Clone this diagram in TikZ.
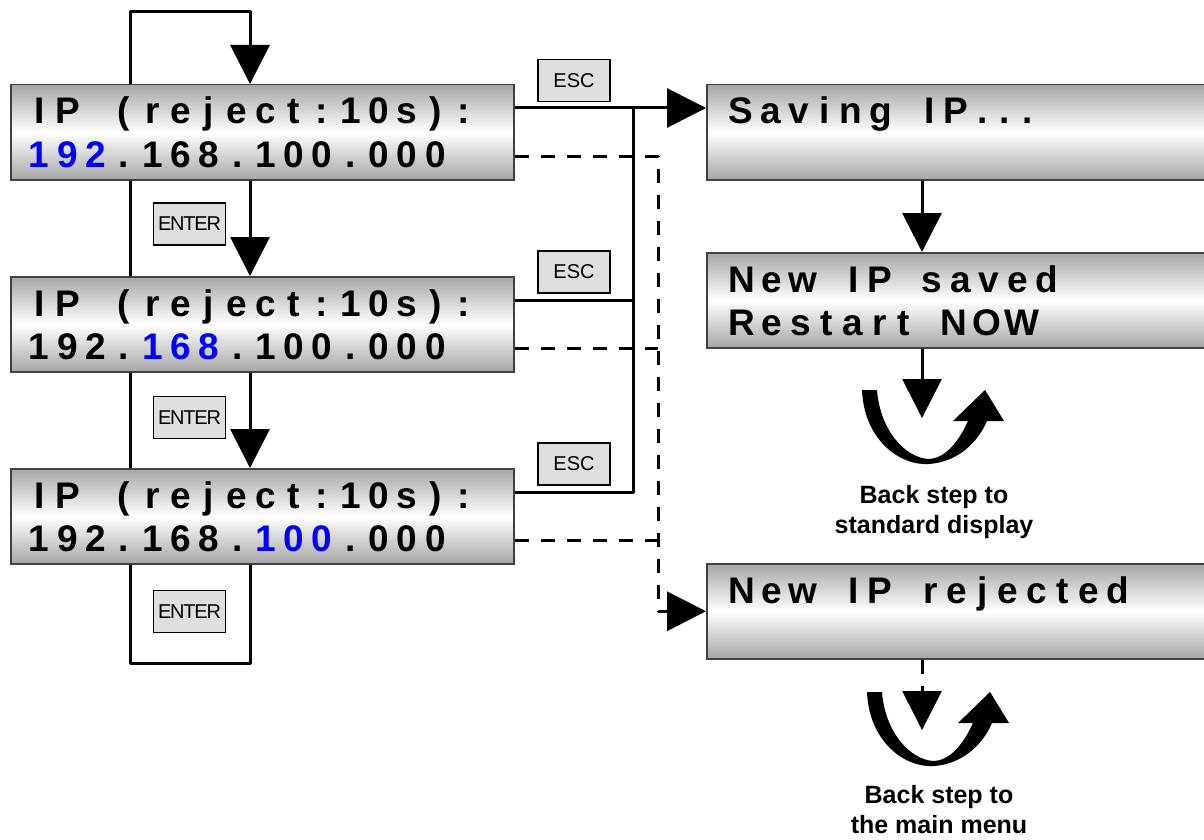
\documentclass[tikz,border=0pt]{standalone}
\usepackage{fontspec}
\setmainfont{Liberation Sans}
\usetikzlibrary{arrows.meta,backgrounds}

% one character per display cell: cell = \lcdc + \lcdk * glyph width
\newcommand\lcdc{28.3pt}
\newcommand\lcdk{0}
\def\lcdend{\lcdend}
\newcommand\lcd[1]{\lcdnext#1\lcdend}
\def\lcdnext#1{\ifx#1\lcdend\else\setbox0\hbox{#1}\hbox to \dimexpr\lcdc+\lcdk\wd0\relax{\hss\box0\hss}\expandafter\lcdnext\fi}

\tikzset{lcdbox/.style = {draw=black!75, line width=1.5pt, top color=gray!70, bottom color=gray!70, middle color=white, minimum height=95pt, inner sep=0pt, anchor=north west},
         lcdleft/.style = {lcdbox, minimum width=503pt},
         lcdright/.style = {lcdbox, minimum width=506pt},
         lcdtext/.style = {anchor=base west, inner sep=0pt, font={\fontsize{37}{40}\selectfont\bfseries}},
         lcdl/.style = {lcdtext, execute at begin node={\def\lcdc{28.3pt}\def\lcdk{0}}},
         lcdr/.style = {lcdtext, execute at begin node={\def\lcdc{16.4pt}\def\lcdk{0.59}}},
         keycap/.style = {draw, line width=1.2pt, fill=gray!25, minimum width=72pt, minimum height=42pt, inner sep=0pt, font={\fontsize{20}{24}\selectfont}},
         wire/.style = {line width=3pt, line join=round},
         dashwire/.style = {wire, dash pattern=on 14pt off 12pt},
         bigarrow/.style = {-{Triangle[length=39pt,width=39pt]}},
         note/.style = {align=center, font={\fontsize{25}{30}\selectfont\bfseries}}}

\begin{document}
\begin{tikzpicture}[x=1pt,y=-1pt]
    \useasboundingbox (0,0) rectangle (1204,840);
    \clip (0,0) rectangle (1204,840);
    % left displays
    \node[lcdleft](ip1)at(10,84){};
    \node[lcdleft](ip2)at(10,276){};
    \node[lcdleft](ip3)at(10,468){};
    \node[lcdl](ip1a)at([shift={(14.8pt,-40pt)}]ip1.north west){\lcd{IP~(reject:10s):}};
    \node[lcdl](ip1b)at([shift={(14.8pt,-83pt)}]ip1.north west){\textcolor{blue}{\lcd{192}}\lcd{.168.100.000}};
    \node[lcdl](ip2a)at([shift={(14.8pt,-40pt)}]ip2.north west){\lcd{IP~(reject:10s):}};
    \node[lcdl](ip2b)at([shift={(14.8pt,-83pt)}]ip2.north west){\lcd{192.}\textcolor{blue}{\lcd{168}}\lcd{.100.000}};
    \node[lcdl](ip3a)at([shift={(14.8pt,-40pt)}]ip3.north west){\lcd{IP~(reject:10s):}};
    \node[lcdl](ip3b)at([shift={(14.8pt,-83pt)}]ip3.north west){\lcd{192.168.}\textcolor{blue}{\lcd{100}}\lcd{.000}};
    % right displays
    \node[lcdright](save)at(706,84){};
    \node[lcdright](saved)at(706,252){};
    \node[lcdright](reject)at(706,563){};
    \node[lcdr](savea)at([shift={(19.3pt,-40pt)}]save.north west){\lcd{Saving~IP...}};
    \node[lcdr](saveda)at([shift={(19.3pt,-40pt)}]saved.north west){\lcd{New~IP~saved}};
    \node[lcdr](savedb)at([shift={(19.3pt,-83pt)}]saved.north west){\lcd{Restart~NOW}};
    \node[lcdr](rejecta)at([shift={(19.3pt,-40pt)}]reject.north west){\lcd{New~IP~rejected}};
    % keys
    \node[keycap](enter1)at(189.5,224){\addfontfeature{LetterSpace=-6}ENTER};
    \node[keycap](enter2)at(189.5,417.5){\addfontfeature{LetterSpace=-6}ENTER};
    \node[keycap](enter3)at(189.5,611.5){\addfontfeature{LetterSpace=-6}ENTER};
    \node[keycap](esc1)at(574,80.5){ESC};
    \node[keycap](esc2)at(574,272){ESC};
    \node[keycap](esc3)at(574,464){ESC};
    % notes
    \node[note](back1)at(934,512){Back step to\\standard display};
    \node[note](back2)at(939,810){Back step to\\the main menu};
    % corners and tips
    \coordinate(lt)at(130,12);
    \coordinate(rt)at(250,12);
    \coordinate(lb)at(130,663);
    \coordinate(rb)at(250,663);
    \coordinate(bus)at(633,0);
    \coordinate(dbus)at(658,0);
    \coordinate(mid)at(922,0);
    \coordinate(tip1)at(922,418);
    \coordinate(tip2)at(922,730);
    \coordinate(turn1)at(922,418);
    \coordinate(turn2)at(927,720);
    \coordinate(e1)at([yshift=-24pt]ip1.north east);
    \coordinate(e2)at([yshift=-24pt]ip2.north east);
    \coordinate(e3)at([yshift=-24pt]ip3.north east);
    \coordinate(d1)at([yshift=-72pt]ip1.north east);
    \coordinate(d2)at([yshift=-72pt]ip2.north east);
    \coordinate(d3)at([yshift=-72pt]ip3.north east);
    \begin{scope}[on background layer]
        \draw[wire,bigarrow](ip3.south -| rb)--(rb)--(lb)--(lt)--(rt)--(ip1.north -| rt);
        \draw[wire,bigarrow](ip1.south -| rt)--(ip2.north -| rt);
        \draw[wire,bigarrow](ip2.south -| rt)--(ip3.north -| rt);
        \draw[wire,bigarrow](e1)--(e1 -| save.west);
        \draw[wire](e3)-|(bus |- e1);
        \draw[wire](e2)--(e2 -| bus);
        \draw[dashwire,bigarrow](d1)-|(dbus |- reject.west)--(reject.west);
        \draw[dashwire](d2)--(d2 -| dbus);
        \draw[dashwire](d3)--(d3 -| dbus);
        \draw[wire,bigarrow](save.south -| mid)--(saved.north -| mid);
        \draw[wire,bigarrow](saved.south -| mid)--(tip1);
        \draw[dashwire,bigarrow](reject.south -| mid)--(tip2);
    \end{scope}
    % back step turns
    \foreach \t in {turn1,turn2}
        \fill[shift={(\t)}](-60,-28)..controls(-58,22)and(-22,48)..(7,46)..controls(36,44)and(56,24)..(65,3)--(82,3)--(63,-28)--(31,3)--(46,3)..controls(36,25)and(23,40)..(7,41)..controls(-17,40)and(-42,12)..(-45,-28)--cycle;
\end{tikzpicture}
\end{document}
